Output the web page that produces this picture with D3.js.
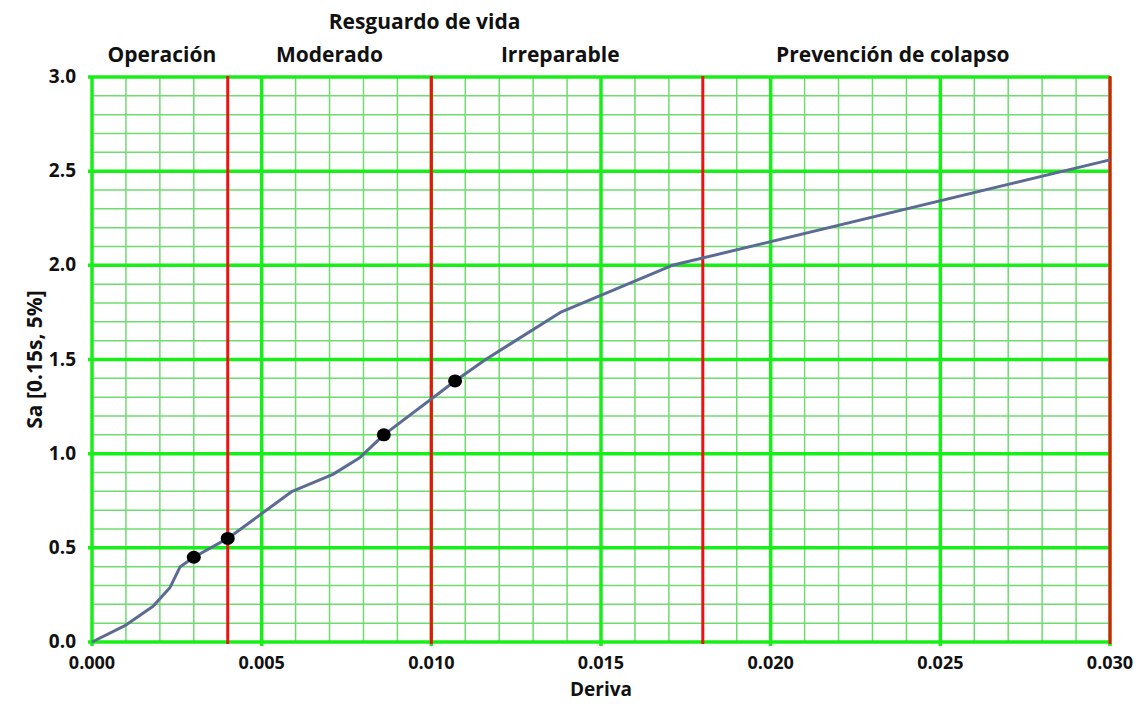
<!DOCTYPE html>
<html>
<head>
<meta charset="utf-8">
<script src="https://cdn.jsdelivr.net/npm/d3@7"></script>
<style>
  body { margin: 0; background: #fff; }
  text { font-family: "Open Sans", "Noto Sans", sans-serif; font-weight: bold; fill: #111; }
</style>
</head>
<body>
<svg id="chart" width="1138" height="704"></svg>
<script>
// curve
var driftValues = [0, 0.001, 0.0018, 0.0023, 0.0026, 0.0030, 0.0040, 0.0059, 0.0071, 0.0079, 0.0086, 0.0107, 0.0116, 0.0138, 0.0171, 0.0300];
var saValues = [0, 0.09, 0.19, 0.29, 0.40, 0.45, 0.55, 0.80, 0.89, 0.98, 1.10, 1.386, 1.50, 1.75, 2.00, 2.56];

var markerDrift = [0.0030, 0.0040, 0.0086, 0.0107];
var markerSa = [0.45, 0.55, 1.10, 1.386];

var limitDrift = [0.004, 0.010, 0.018, 0.030];

var zoneNames = ['Operación', 'Moderado', 'Resguardo de vida', 'Irreparable', 'Prevención de colapso'];
var zoneCenters = [0.00206, 0.0070, 0.0098, 0.0138, 0.0236];
var zoneRows = [0, 0, 1, 0, 0];

var xTicks = [0, 0.005, 0.010, 0.015, 0.020, 0.025, 0.030];
var yTicks = [0, 0.5, 1.0, 1.5, 2.0, 2.5, 3.0];

(function () {
  var margin = { top: 77, right: 28, bottom: 62, left: 92 };
  var width = 1138, height = 704;
  var svg = d3.select('#chart');

  var x = d3.scaleLinear().domain([0, 0.03]).range([margin.left, width - margin.right]);
  var y = d3.scaleLinear().domain([0, 3]).range([height - margin.bottom, margin.top]);

  var minorX = d3.range(0, 31).map(function (i) { return i / 1000; });
  var minorY = d3.range(0, 31).map(function (i) { return i / 10; });

  var grid = svg.append('g').attr('class', 'grid');

  grid.selectAll('line.minor-x').data(minorX).enter().append('line')
      .attr('class', 'minor-x')
      .attr('x1', x).attr('x2', x)
      .attr('y1', y(0)).attr('y2', y(3))
      .attr('stroke', '#6fdc6f').attr('stroke-width', 1.5);

  grid.selectAll('line.minor-y').data(minorY).enter().append('line')
      .attr('class', 'minor-y')
      .attr('x1', x(0)).attr('x2', x(0.03))
      .attr('y1', y).attr('y2', y)
      .attr('stroke', '#6fdc6f').attr('stroke-width', 1.5);

  grid.selectAll('line.major-x').data(xTicks).enter().append('line')
      .attr('class', 'major-x')
      .attr('x1', x).attr('x2', x)
      .attr('y1', y(0) + 4).attr('y2', y(3))
      .attr('stroke', '#18ee18').attr('stroke-width', 3.5);

  grid.selectAll('line.major-y').data(yTicks).enter().append('line')
      .attr('class', 'major-y')
      .attr('x1', x(0) - 4).attr('x2', x(0.03))
      .attr('y1', y).attr('y2', y)
      .attr('stroke', '#18ee18').attr('stroke-width', 3.5);

  // limit lines
  svg.append('g').selectAll('line').data(limitDrift).enter().append('line')
      .attr('x1', x).attr('x2', x)
      .attr('y1', y(0) + 2).attr('y2', y(3) - 1)
      .attr('stroke', '#ee1111').attr('stroke-width', 3);

  // curve
  var pts = driftValues.map(function (d, i) { return [d, saValues[i]]; });
  var line = d3.line()
      .x(function (d) { return x(d[0]); })
      .y(function (d) { return y(d[1]); });

  svg.append('path')
      .datum(pts)
      .attr('d', line)
      .attr('fill', 'none')
      .attr('stroke', '#5b6b93')
      .attr('stroke-width', 3)
      .attr('stroke-linejoin', 'round');

  svg.append('g').selectAll('ellipse').data(markerDrift).enter().append('ellipse')
      .attr('cx', function (d) { return x(d); })
      .attr('cy', function (d, i) { return y(markerSa[i]); })
      .attr('rx', 7).attr('ry', 6.5)
      .attr('fill', '#000');

  // tick labels
  svg.append('g').selectAll('text').data(xTicks).enter().append('text')
      .attr('x', x)
      .attr('y', height - margin.bottom + 27)
      .attr('text-anchor', 'middle')
      .attr('font-size', 18)
      .text(function (d) { return d3.format('.3f')(d); });

  svg.append('g').selectAll('text').data(yTicks).enter().append('text')
      .attr('x', margin.left - 16)
      .attr('y', function (d) { return y(d) + 6; })
      .attr('text-anchor', 'end')
      .attr('font-size', 19)
      .text(function (d) { return d3.format('.1f')(d); });

  // zone labels
  svg.append('g').selectAll('text').data(zoneNames).enter().append('text')
      .attr('x', function (d, i) { return x(zoneCenters[i]); })
      .attr('y', function (d, i) { return zoneRows[i] ? 29 : 62; })
      .attr('text-anchor', 'middle')
      .attr('font-size', 21)
      .text(function (d) { return d; });

  svg.append('text')
      .attr('x', x(0.015))
      .attr('y', 696)
      .attr('text-anchor', 'middle')
      .attr('font-size', 19)
      .text('Deriva');

  svg.append('text')
      .attr('transform', 'translate(42,' + y(1.5) + ') rotate(-90)')
      .attr('text-anchor', 'middle')
      .attr('font-size', 21)
      .text('Sa [0.15s, 5%]');
})();
</script>
</body>
</html>
